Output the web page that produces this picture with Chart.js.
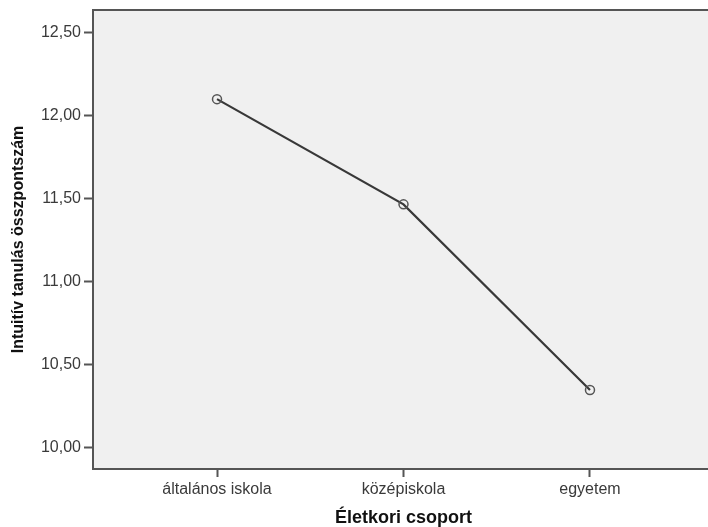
<!DOCTYPE html>
<html>
<head>
<meta charset="utf-8">
<script src="https://cdn.jsdelivr.net/npm/chart.js@4.4.1/dist/chart.umd.min.js"></script>
<style>
html,body{margin:0;padding:0;background:#fff;overflow:hidden;}
#wrap{width:720px;height:527px;position:relative;}
</style>
</head>
<body>
<div id="wrap"><canvas id="c" width="720" height="527"></canvas></div>
<script>
const categories = ["általános iskola", "középiskola", "egyetem"];
const meanScores = [12.10, 11.465, 10.345];
const yTickValues = [10.0, 10.5, 11.0, 11.5, 12.0, 12.5];
const yAxisTitle = "Intuitív tanulás összpontszám";
const xAxisTitle = "Életkori csoport";

const points = categories.map((c, i) => ({x: i, y: meanScores[i]}));

const areaPlugin = {
  id: 'area',
  beforeDraw(chart) {
    const a = chart.chartArea, ctx = chart.ctx;
    ctx.save();
    ctx.fillStyle = '#f0f0f0';
    ctx.fillRect(a.left, a.top, a.right - a.left, a.bottom - a.top);
    ctx.restore();
  },
  afterDraw(chart) {
    const a = chart.chartArea, ctx = chart.ctx;
    ctx.save();
    ctx.strokeStyle = '#555';
    ctx.lineWidth = 2;
    ctx.strokeRect(a.left, a.top, a.right - a.left, a.bottom - a.top);
    ctx.restore();
  }
};

new Chart(document.getElementById('c'), {
  type: 'line',
  data: {
    datasets: [{
      data: points,
      borderColor: '#383838',
      borderWidth: 2.2,
      pointRadius: 4.5,
      pointBorderWidth: 1.5,
      pointBackgroundColor: 'rgba(0,0,0,0)',
      pointBorderColor: '#555',
      tension: 0
    }]
  },
  options: {
    responsive: false,
    animation: false,
    layout: {padding: {top: 10, right: 0, left: 0, bottom: 0}},
    plugins: {legend: {display: false}, tooltip: {enabled: false}},
    scales: {
      x: {
        type: 'linear',
        min: -0.665,
        max: 2.665,
        afterBuildTicks(s) { s.ticks = categories.map((c, i) => ({value: i})); },
        afterFit(s) { s.height = 58; s.paddingLeft = 0; s.paddingRight = 0; },
        ticks: {
          callback: (v) => categories[v],
          color: '#3a3a3a',
          font: {family: 'Liberation Sans', size: 16},
          padding: 3,
          maxRotation: 0
        },
        grid: {drawOnChartArea: false, drawTicks: true, tickLength: 8, tickColor: '#555', tickWidth: 2},
        border: {display: true, color: '#555', width: 2},
        title: {
          display: true, text: xAxisTitle, color: '#111',
          font: {family: 'Liberation Sans', size: 18, weight: 'bold'},
          padding: {top: 0, bottom: -2}
        }
      },
      y: {
        type: 'linear',
        min: 9.868,
        max: 12.638,
        afterBuildTicks(s) { s.ticks = yTickValues.map(v => ({value: v})); },
        afterFit(s) { s.width = 93; s.paddingTop = 0; s.paddingBottom = 0; },
        ticks: {
          callback: (v) => v.toFixed(2).replace('.', ','),
          color: '#3a3a3a',
          font: {family: 'Liberation Sans', size: 16},
          padding: 3
        },
        grid: {drawOnChartArea: false, drawTicks: true, tickLength: 9, tickColor: '#555', tickWidth: 2},
        border: {display: true, color: '#555', width: 2},
        title: {
          display: true, text: yAxisTitle, color: '#111',
          font: {family: 'Liberation Sans', size: 16, weight: 'bold'},
          padding: {top: 9, bottom: 0}
        }
      }
    }
  },
  plugins: [areaPlugin]
});
</script>
</body>
</html>
